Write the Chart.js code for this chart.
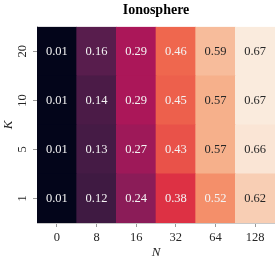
<!DOCTYPE html>
<html>
<head>
<meta charset="utf-8">
<script src="https://cdn.jsdelivr.net/npm/chart.js"></script>
<style>
  html, body { margin: 0; padding: 0; background: #fff; }
  #wrap { width: 275px; height: 261px; }
</style>
</head>
<body>
<div id="wrap"><canvas id="heat"></canvas></div>
<script>
// columns (N) and rows (K, bottom to top)
var nLabels = ['0', '8', '16', '32', '64', '128'];
var kLabels = ['1', '5', '10', '20'];

var scoresK1 = [0.01, 0.12, 0.24, 0.38, 0.52, 0.62];
var scoresK5 = [0.01, 0.13, 0.27, 0.43, 0.57, 0.66];
var scoresK10 = [0.01, 0.14, 0.29, 0.45, 0.57, 0.67];
var scoresK20 = [0.01, 0.16, 0.29, 0.46, 0.59, 0.67];
var rows = [scoresK1, scoresK5, scoresK10, scoresK20];

var vmin = 0.01;
var vmax = 0.67;

// rocket colormap, rough stops
var rocket = [
    [0.000, [3, 5, 26]],
    [0.143, [53, 25, 62]],
    [0.286, [112, 31, 87]],
    [0.429, [173, 23, 89]],
    [0.571, [225, 51, 66]],
    [0.714, [243, 118, 81]],
    [0.857, [246, 180, 143]],
    [1.000, [250, 235, 221]]
];

var rocketRgb = function(v) {
    var t = Math.max(0, Math.min(1, (v - vmin) / (vmax - vmin)));
    for (var i = 1; i < rocket.length; i++) {
        if (t <= rocket[i][0]) {
            var a = rocket[i - 1], b = rocket[i];
            var f = (t - a[0]) / (b[0] - a[0]);
            return a[1].map(function(c, j) {
                return Math.round(c + (b[1][j] - c) * f);
            });
        }
    }
    return rocket[rocket.length - 1][1];
};

var cellColor = function(v) {
    var c = rocketRgb(v);
    return 'rgb(' + c[0] + ',' + c[1] + ',' + c[2] + ')';
};

var textColor = function(v) {
    var c = rocketRgb(v).map(function(x) {
        x = x / 255;
        return x <= 0.03928 ? x / 12.92 : Math.pow((x + 0.055) / 1.055, 2.4);
    });
    var lum = 0.2126 * c[0] + 0.7152 * c[1] + 0.0722 * c[2];
    return lum > 0.408 ? '#262626' : '#f4f4f4';
};

var serif = "'Liberation Serif', 'Times New Roman', serif";
var tickColor = '#262626';

var datasets = rows.map(function(vals, i) {
    return {
        label: 'K=' + kLabels[i],
        data: vals.map(function() { return [i, i + 1]; }),
        scores: vals,
        backgroundColor: vals.map(cellColor),
        borderWidth: 0,
        barPercentage: 1,
        categoryPercentage: 1,
        grouped: false
    };
});

// annotations in cells + rotated y tick labels
var heatText = {
    id: 'heatText',
    afterDatasetsDraw: function(chart) {
        var ctx = chart.ctx;
        ctx.save();
        ctx.font = '12.5px ' + serif;
        ctx.textAlign = 'center';
        ctx.textBaseline = 'middle';
        chart.data.datasets.forEach(function(ds, di) {
            var meta = chart.getDatasetMeta(di);
            meta.data.forEach(function(el, j) {
                var v = ds.scores[j];
                ctx.fillStyle = textColor(v);
                ctx.fillText(v.toFixed(2), el.x, (el.y + el.base) / 2 + 0.5);
            });
        });
        ctx.restore();
    },
    afterDraw: function(chart) {
        var ctx = chart.ctx;
        var y = chart.scales.y;
        ctx.save();
        ctx.font = '12.5px ' + serif;
        ctx.fillStyle = tickColor;
        ctx.textAlign = 'center';
        ctx.textBaseline = 'middle';
        kLabels.forEach(function(k, i) {
            ctx.save();
            ctx.translate(y.right - 14, y.getPixelForValue(i + 0.5));
            ctx.rotate(-Math.PI / 2);
            ctx.fillText(k, 0, 0);
            ctx.restore();
        });
        ctx.restore();
    }
};

new Chart(document.getElementById('heat'), {
    type: 'bar',
    data: {
        labels: nLabels,
        datasets: datasets
    },
    plugins: [heatText],
    options: {
        responsive: true,
        maintainAspectRatio: false,
        animation: false,
        layout: {padding: 0},
        plugins: {
            legend: {display: false},
            tooltip: {enabled: false},
            title: {
                display: true,
                fullSize: false,
                text: 'Ionosphere',
                color: '#000',
                font: {family: serif, size: 14, weight: 'bold'},
                padding: {top: 2, bottom: 8}
            }
        },
        scales: {
            x: {
                type: 'category',
                afterFit: function(scale) { scale.height = 38; },
                grid: {
                    display: true,
                    drawOnChartArea: false,
                    drawTicks: true,
                    tickLength: 4,
                    offset: false,
                    color: '#999'
                },
                border: {display: true, color: '#c8c8c8', width: 1},
                ticks: {
                    color: tickColor,
                    font: {family: serif, size: 12.5},
                    padding: 3,
                    maxRotation: 0
                },
                title: {
                    display: true,
                    text: 'N',
                    color: tickColor,
                    font: {family: serif, size: 13, style: 'italic'},
                    padding: {top: 0, bottom: 1}
                }
            },
            y: {
                type: 'linear',
                min: 0,
                max: 4,
                afterFit: function(scale) { scale.width = 37; },
                afterBuildTicks: function(scale) {
                    scale.ticks = kLabels.map(function(k, i) { return {value: i + 0.5}; });
                },
                grid: {
                    display: true,
                    drawOnChartArea: false,
                    drawTicks: true,
                    tickLength: 4,
                    color: '#999'
                },
                border: {display: true, color: '#c8c8c8', width: 1},
                ticks: {display: false},
                title: {
                    display: true,
                    text: 'K',
                    color: tickColor,
                    font: {family: serif, size: 13, style: 'italic'},
                    padding: {top: 1, bottom: 0}
                }
            }
        }
    }
});
</script>
</body>
</html>
